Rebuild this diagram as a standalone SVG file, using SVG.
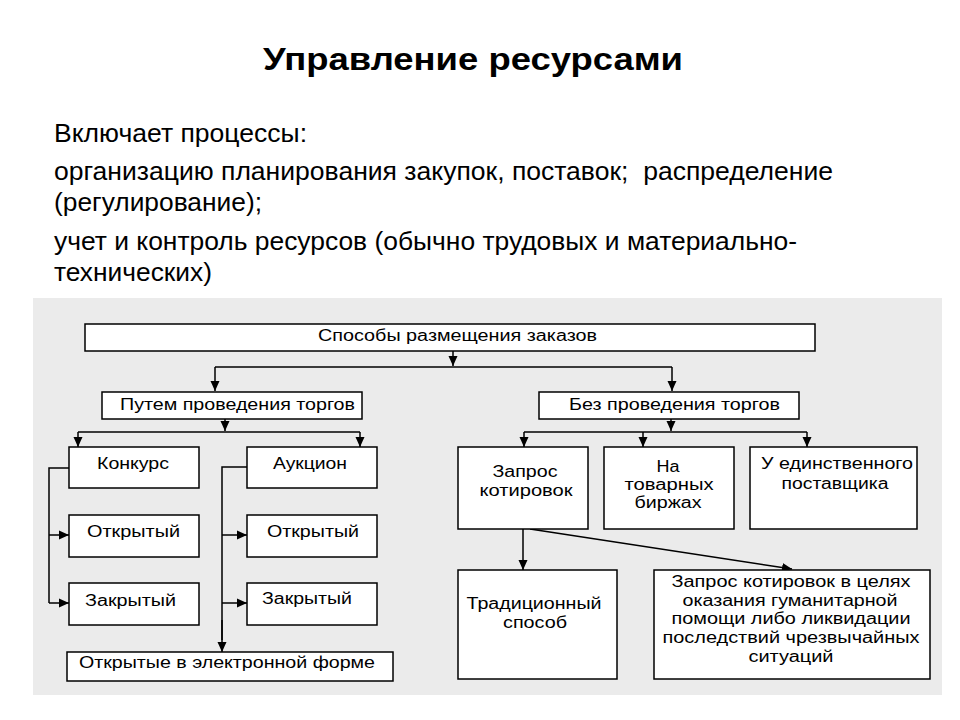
<svg xmlns="http://www.w3.org/2000/svg" width="960" height="720" viewBox="0 0 960 720">
<style>
.title{font-family:"Liberation Sans",Arial,sans-serif;font-weight:bold;font-size:31px;fill:#000}
.body{font-family:"Liberation Sans",Arial,sans-serif;font-size:26px;fill:#000}
.box{fill:#fff;stroke:#000;stroke-width:1.5}
.lbl{font-family:"Liberation Sans",Arial,sans-serif;font-size:16px;fill:#000}
.c{text-anchor:middle}
.ln{fill:none;stroke:#000;stroke-width:1.5}
.ar{fill:none;stroke:#000;stroke-width:1.5;marker-end:url(#ah)}
</style>
<defs>
<marker id="ah" markerUnits="userSpaceOnUse" markerWidth="10" markerHeight="10" viewBox="0 0 10 10" refX="10" refY="5" orient="auto">
<path d="M0,0.5 L10,5 L0,9.5 Z" fill="#000"/>
</marker>
</defs>
<rect x="0" y="0" width="960" height="720" fill="#fff"/>
<text class="title" x="263" y="70" textLength="420" lengthAdjust="spacingAndGlyphs">Управление ресурсами</text>
<text class="body" x="54" y="142" textLength="253" lengthAdjust="spacingAndGlyphs">Включает процессы:</text>
<text class="body" x="54" y="180" textLength="779" lengthAdjust="spacingAndGlyphs" xml:space="preserve">организацию планирования закупок, поставок;  распределение</text>
<text class="body" x="54" y="211" textLength="208" lengthAdjust="spacingAndGlyphs">(регулирование);</text>
<text class="body" x="54" y="250" textLength="743" lengthAdjust="spacingAndGlyphs">учет и контроль ресурсов (обычно трудовых и материально-</text>
<text class="body" x="54" y="281" textLength="158" lengthAdjust="spacingAndGlyphs">технических)</text>
<rect x="33" y="298" width="909" height="397" fill="#ebebeb"/>
<g id="connectors">
<line class="ar" x1="453" y1="351" x2="453" y2="366"/>
<polyline class="ln" points="215,367 672,367"/>
<line class="ar" x1="215" y1="367" x2="215" y2="391"/>
<line class="ar" x1="672" y1="367" x2="672" y2="391"/>
<line class="ar" x1="225" y1="419" x2="225" y2="431"/>
<polyline class="ln" points="78,432 360,432"/>
<line class="ar" x1="78" y1="432" x2="78" y2="447"/>
<line class="ar" x1="360" y1="432" x2="360" y2="447"/>
<line class="ar" x1="671" y1="419" x2="671" y2="431"/>
<polyline class="ln" points="524,432 807,432"/>
<line class="ar" x1="524" y1="432" x2="524" y2="447"/>
<line class="ar" x1="643" y1="432" x2="643" y2="447"/>
<line class="ar" x1="807" y1="432" x2="807" y2="447"/>
<polyline class="ln" points="69,468 49,468 49,603"/>
<line class="ar" x1="49" y1="535" x2="69" y2="535"/>
<line class="ar" x1="49" y1="603" x2="69" y2="603"/>
<polyline class="ln" points="247,467 222,467 222,640"/>
<line class="ar" x1="222" y1="620" x2="222" y2="652"/>
<line class="ar" x1="222" y1="535" x2="247" y2="535"/>
<line class="ar" x1="222" y1="603" x2="247" y2="603"/>
<line class="ar" x1="523" y1="529" x2="523" y2="570"/>
<line class="ar" x1="530" y1="529" x2="792" y2="569"/>
</g>
<g id="n-root"><rect class="box" x="85" y="324" width="730" height="27"/><text class="lbl" x="318" y="341" textLength="279" lengthAdjust="spacingAndGlyphs">Способы размещения заказов</text></g>
<g id="n-torgi"><rect class="box" x="102" y="392" width="260" height="27"/><text class="lbl" x="120" y="410" textLength="235" lengthAdjust="spacingAndGlyphs">Путем проведения торгов</text></g>
<g id="n-bez"><rect class="box" x="539" y="392" width="260" height="27"/><text class="lbl" x="569" y="410" textLength="211" lengthAdjust="spacingAndGlyphs">Без проведения торгов</text></g>
<g id="n-konkurs"><rect class="box" x="69" y="447" width="130" height="41"/><text class="lbl" x="97" y="469" textLength="72" lengthAdjust="spacingAndGlyphs">Конкурс</text></g>
<g id="n-auction"><rect class="box" x="247" y="447" width="130" height="41"/><text class="lbl" x="273" y="469" textLength="74" lengthAdjust="spacingAndGlyphs">Аукцион</text></g>
<g id="n-k-open"><rect class="box" x="69" y="515" width="130" height="42"/><text class="lbl" x="87" y="537" textLength="93" lengthAdjust="spacingAndGlyphs">Открытый</text></g>
<g id="n-a-open"><rect class="box" x="247" y="515" width="130" height="42"/><text class="lbl" x="267" y="537" textLength="92" lengthAdjust="spacingAndGlyphs">Открытый</text></g>
<g id="n-k-closed"><rect class="box" x="69" y="583" width="130" height="42"/><text class="lbl" x="85" y="606" textLength="91" lengthAdjust="spacingAndGlyphs">Закрытый</text></g>
<g id="n-a-closed"><rect class="box" x="247" y="583" width="130" height="42"/><text class="lbl" x="262" y="604" textLength="90" lengthAdjust="spacingAndGlyphs">Закрытый</text></g>
<g id="n-electronic"><rect class="box" x="67" y="652" width="326" height="29"/><text class="lbl" x="79" y="668" textLength="296" lengthAdjust="spacingAndGlyphs">Открытые в электронной форме</text></g>
<g id="n-zapros"><rect class="box" x="458" y="447" width="130" height="82"/>
<text class="lbl c" x="525" y="477" textLength="65" lengthAdjust="spacingAndGlyphs">Запрос</text>
<text class="lbl c" x="526" y="496" textLength="93" lengthAdjust="spacingAndGlyphs">котировок</text></g>
<g id="n-birzhi"><rect class="box" x="604" y="447" width="130" height="82"/>
<text class="lbl c" x="668" y="472" textLength="23" lengthAdjust="spacingAndGlyphs">На</text>
<text class="lbl c" x="669" y="490" textLength="89" lengthAdjust="spacingAndGlyphs">товарных</text>
<text class="lbl c" x="668" y="508" textLength="67" lengthAdjust="spacingAndGlyphs">биржах</text></g>
<g id="n-edinstv"><rect class="box" x="750" y="447" width="167" height="82"/>
<text class="lbl c" x="837" y="469" textLength="152" lengthAdjust="spacingAndGlyphs">У единственного</text>
<text class="lbl c" x="835" y="489" textLength="107" lengthAdjust="spacingAndGlyphs">поставщика</text></g>
<g id="n-trad"><rect class="box" x="458" y="570" width="159" height="109"/>
<text class="lbl c" x="534" y="609" textLength="135" lengthAdjust="spacingAndGlyphs">Традиционный</text>
<text class="lbl c" x="535" y="628" textLength="64" lengthAdjust="spacingAndGlyphs">способ</text></g>
<g id="n-gum"><rect class="box" x="654" y="570" width="276" height="109"/>
<text class="lbl c" x="791" y="587" textLength="239" lengthAdjust="spacingAndGlyphs">Запрос котировок в целях</text>
<text class="lbl c" x="790" y="606" textLength="215" lengthAdjust="spacingAndGlyphs">оказания гуманитарной</text>
<text class="lbl c" x="791" y="624" textLength="239" lengthAdjust="spacingAndGlyphs">помощи либо ликвидации</text>
<text class="lbl c" x="791" y="643" textLength="257" lengthAdjust="spacingAndGlyphs">последствий чрезвычайных</text>
<text class="lbl c" x="791" y="662" textLength="85" lengthAdjust="spacingAndGlyphs">ситуаций</text></g>
</svg>
